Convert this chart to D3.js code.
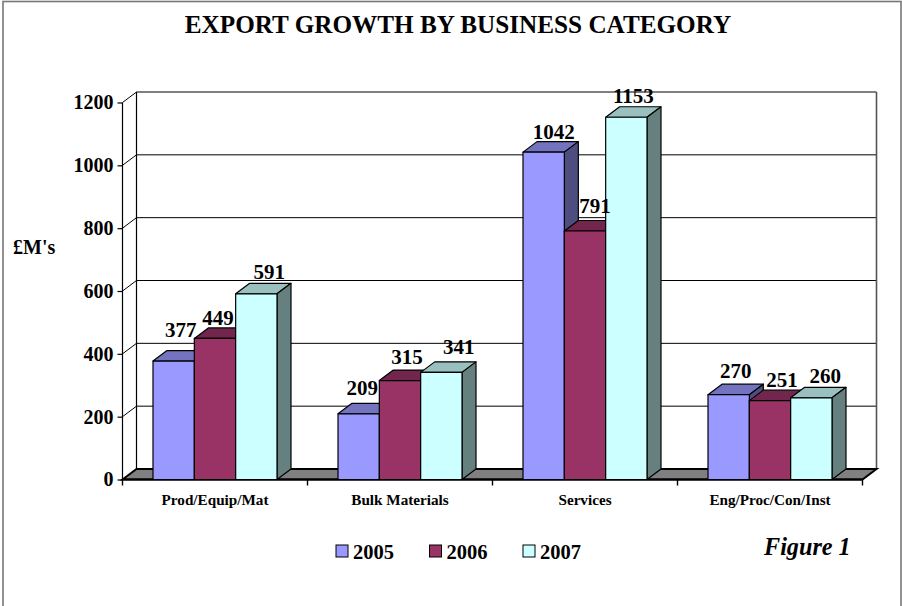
<!DOCTYPE html>
<html>
<head>
<meta charset="utf-8">
<script src="https://cdn.jsdelivr.net/npm/d3@7/dist/d3.min.js"></script>
<style>
  html, body { margin: 0; padding: 0; background: #fff; }
  svg { display: block; }
  text { font-family: "Liberation Serif", serif; font-weight: bold; fill: #000; }
</style>
</head>
<body>
<svg id="chart" width="902" height="606"></svg>
<script>
const categories = ["Prod/Equip/Mat", "Bulk Materials", "Services", "Eng/Proc/Con/Inst"];
const seriesNames = ["2005", "2006", "2007"];
const values2005 = [377, 209, 1042, 270];
const values2006 = [449, 315, 791, 251];
const values2007 = [591, 341, 1153, 260];
const yTicks = [0, 200, 400, 600, 800, 1000, 1200];

const seriesValues = [values2005, values2006, values2007];
const frontColors = ["#9999ff", "#993366", "#ccffff"];
const topColors = ["#7373bf", "#73264d", "#99bfbf"];
const sideColors = ["#4d4d80", "#4d1a33", "#668080"];

// Depth of the 3D box: back wall sits this far right of and above the front plane.
const depthX = 14, depthY = 10.5;
const plot = { left: 122.5, right: 862.5, bottom: 479.5, top: 102.5 };

// Hand placement of the value labels, [dx from bar centre, dy from bar top].
const labelNudge = [
  [[7, -24], [3, -13], [13, -15]],
  [[3.5, -19], [7, -16.5], [17.5, -18]],
  [[10, -13], [10, -18], [7, -14]],
  [[7, -17], [12, -14], [14, -15]]
];

const svg = d3.select("#chart");
const y = d3.scaleLinear().domain([0, 1200]).range([plot.bottom, plot.top]);
const x0 = d3.scaleBand().domain(categories).range([plot.left, plot.right]);
const x1 = d3.scaleBand().domain(seriesNames).range([30.5, 154.5]);

// Outer chart frame
svg.append("rect")
  .attr("x", 3).attr("y", 1.5).attr("width", 898).attr("height", 606)
  .attr("fill", "#fff").attr("stroke", "#777").attr("stroke-width", 1.6);

svg.append("text")
  .attr("x", 458).attr("y", 33)
  .attr("text-anchor", "middle").attr("font-size", 25.2)
  .text("EXPORT GROWTH BY BUSINESS CATEGORY");

// Walls and gridlines
const grid = svg.append("g");
grid.selectAll("path.gridline")
  .data(yTicks)
  .join("path")
  .attr("class", "gridline")
  .attr("fill", "none").attr("stroke", "#000").attr("stroke-width", 1)
  .attr("d", d => d3.line()([
    [plot.left, y(d)],
    [plot.left + depthX, y(d) - depthY],
    [plot.right + depthX, y(d) - depthY]
  ]));

grid.append("line")
  .attr("x1", plot.left).attr("x2", plot.left)
  .attr("y1", y(1200)).attr("y2", y(0))
  .attr("stroke", "#000").attr("stroke-width", 1.2);
grid.append("line")
  .attr("x1", plot.left + depthX).attr("x2", plot.left + depthX)
  .attr("y1", y(1200) - depthY).attr("y2", y(0) - depthY)
  .attr("stroke", "#000").attr("stroke-width", 1.2);
grid.append("line")
  .attr("x1", plot.right + depthX).attr("x2", plot.right + depthX)
  .attr("y1", y(1200) - depthY).attr("y2", y(0) - depthY)
  .attr("stroke", "#555").attr("stroke-width", 1.6);

// Floor of the box
svg.append("path")
  .attr("d", d3.line()([
    [plot.left, plot.bottom],
    [plot.left + depthX, plot.bottom - depthY],
    [plot.right + depthX, plot.bottom - depthY],
    [plot.right, plot.bottom]
  ]) + "Z")
  .attr("fill", "#808080").attr("stroke", "#000").attr("stroke-width", 2);

// Axes
const yAxis = svg.append("g")
  .attr("transform", `translate(${plot.left},0)`)
  .call(d3.axisLeft(y).tickValues(yTicks).tickFormat(d3.format("d")).tickSize(5).tickPadding(4));
yAxis.select(".domain").remove();
yAxis.selectAll("line").attr("stroke", "#000").attr("stroke-width", 1.2);
yAxis.selectAll("text")
  .attr("font-size", 20).attr("font-family", "Liberation Serif").attr("font-weight", "bold");

const xAxis = svg.append("g")
  .attr("transform", `translate(0,${plot.bottom})`)
  .call(d3.axisBottom(x0).tickSize(0).tickPadding(15));
xAxis.select(".domain").remove();
xAxis.selectAll("text")
  .attr("font-size", 15.2).attr("font-family", "Liberation Serif").attr("font-weight", "bold");

svg.append("g").selectAll("line")
  .data(d3.range(categories.length + 1))
  .join("line")
  .attr("x1", i => plot.left + i * x0.bandwidth())
  .attr("x2", i => plot.left + i * x0.bandwidth())
  .attr("y1", plot.bottom).attr("y2", plot.bottom + 6)
  .attr("stroke", "#000").attr("stroke-width", 1.4);

// Baseline across the front of the floor
svg.append("line")
  .attr("x1", plot.left).attr("x2", plot.right)
  .attr("y1", plot.bottom).attr("y2", plot.bottom)
  .attr("stroke", "#000").attr("stroke-width", 2.2);

// Bars: series run left to right so each box overlaps the side of the previous one
const bars = categories.flatMap((category, c) =>
  seriesNames.map((name, s) => ({ category, c, name, s, value: seriesValues[s][c] })));

const barGroups = svg.append("g").selectAll("g")
  .data(bars)
  .join("g")
  .attr("stroke", "#000").attr("stroke-width", 1.2).attr("stroke-linejoin", "round");

const left = d => x0(d.category) + x1(d.name);
const right = d => left(d) + x1.bandwidth();

barGroups.append("path")
  .attr("fill", d => topColors[d.s])
  .attr("d", d => d3.line()([
    [left(d), y(d.value)],
    [left(d) + depthX, y(d.value) - depthY],
    [right(d) + depthX, y(d.value) - depthY],
    [right(d), y(d.value)]
  ]) + "Z");

barGroups.append("path")
  .attr("fill", d => sideColors[d.s])
  .attr("d", d => d3.line()([
    [right(d), y(d.value)],
    [right(d) + depthX, y(d.value) - depthY],
    [right(d) + depthX, y(0) - depthY],
    [right(d), y(0)]
  ]) + "Z");

barGroups.append("rect")
  .attr("fill", d => frontColors[d.s])
  .attr("x", left)
  .attr("y", d => y(d.value))
  .attr("width", x1.bandwidth())
  .attr("height", d => y(0) - y(d.value));

// Value labels
svg.append("g").selectAll("text")
  .data(bars)
  .join("text")
  .attr("text-anchor", "middle").attr("font-size", 21)
  .attr("x", d => left(d) + x1.bandwidth() / 2 + labelNudge[d.c][d.s][0])
  .attr("y", d => y(d.value) + labelNudge[d.c][d.s][1])
  .text(d => d.value);

svg.append("text")
  .attr("x", 13).attr("y", 254).attr("font-size", 20)
  .text("£M's");

// Legend
const legendX = d3.scalePoint().domain(seriesNames).range([336, 523]);
const legend = svg.append("g").selectAll("g")
  .data(seriesNames)
  .join("g")
  .attr("transform", d => `translate(${legendX(d)},545)`);
legend.append("rect")
  .attr("width", 12).attr("height", 12)
  .attr("fill", (d, i) => frontColors[i])
  .attr("stroke", "#000").attr("stroke-width", 1);
legend.append("text")
  .attr("x", 17).attr("y", 14).attr("font-size", 20.5)
  .text(d => d);

svg.append("text")
  .attr("x", 764).attr("y", 555)
  .attr("font-size", 24.2).attr("font-style", "italic")
  .text("Figure 1");
</script>
</body>
</html>
